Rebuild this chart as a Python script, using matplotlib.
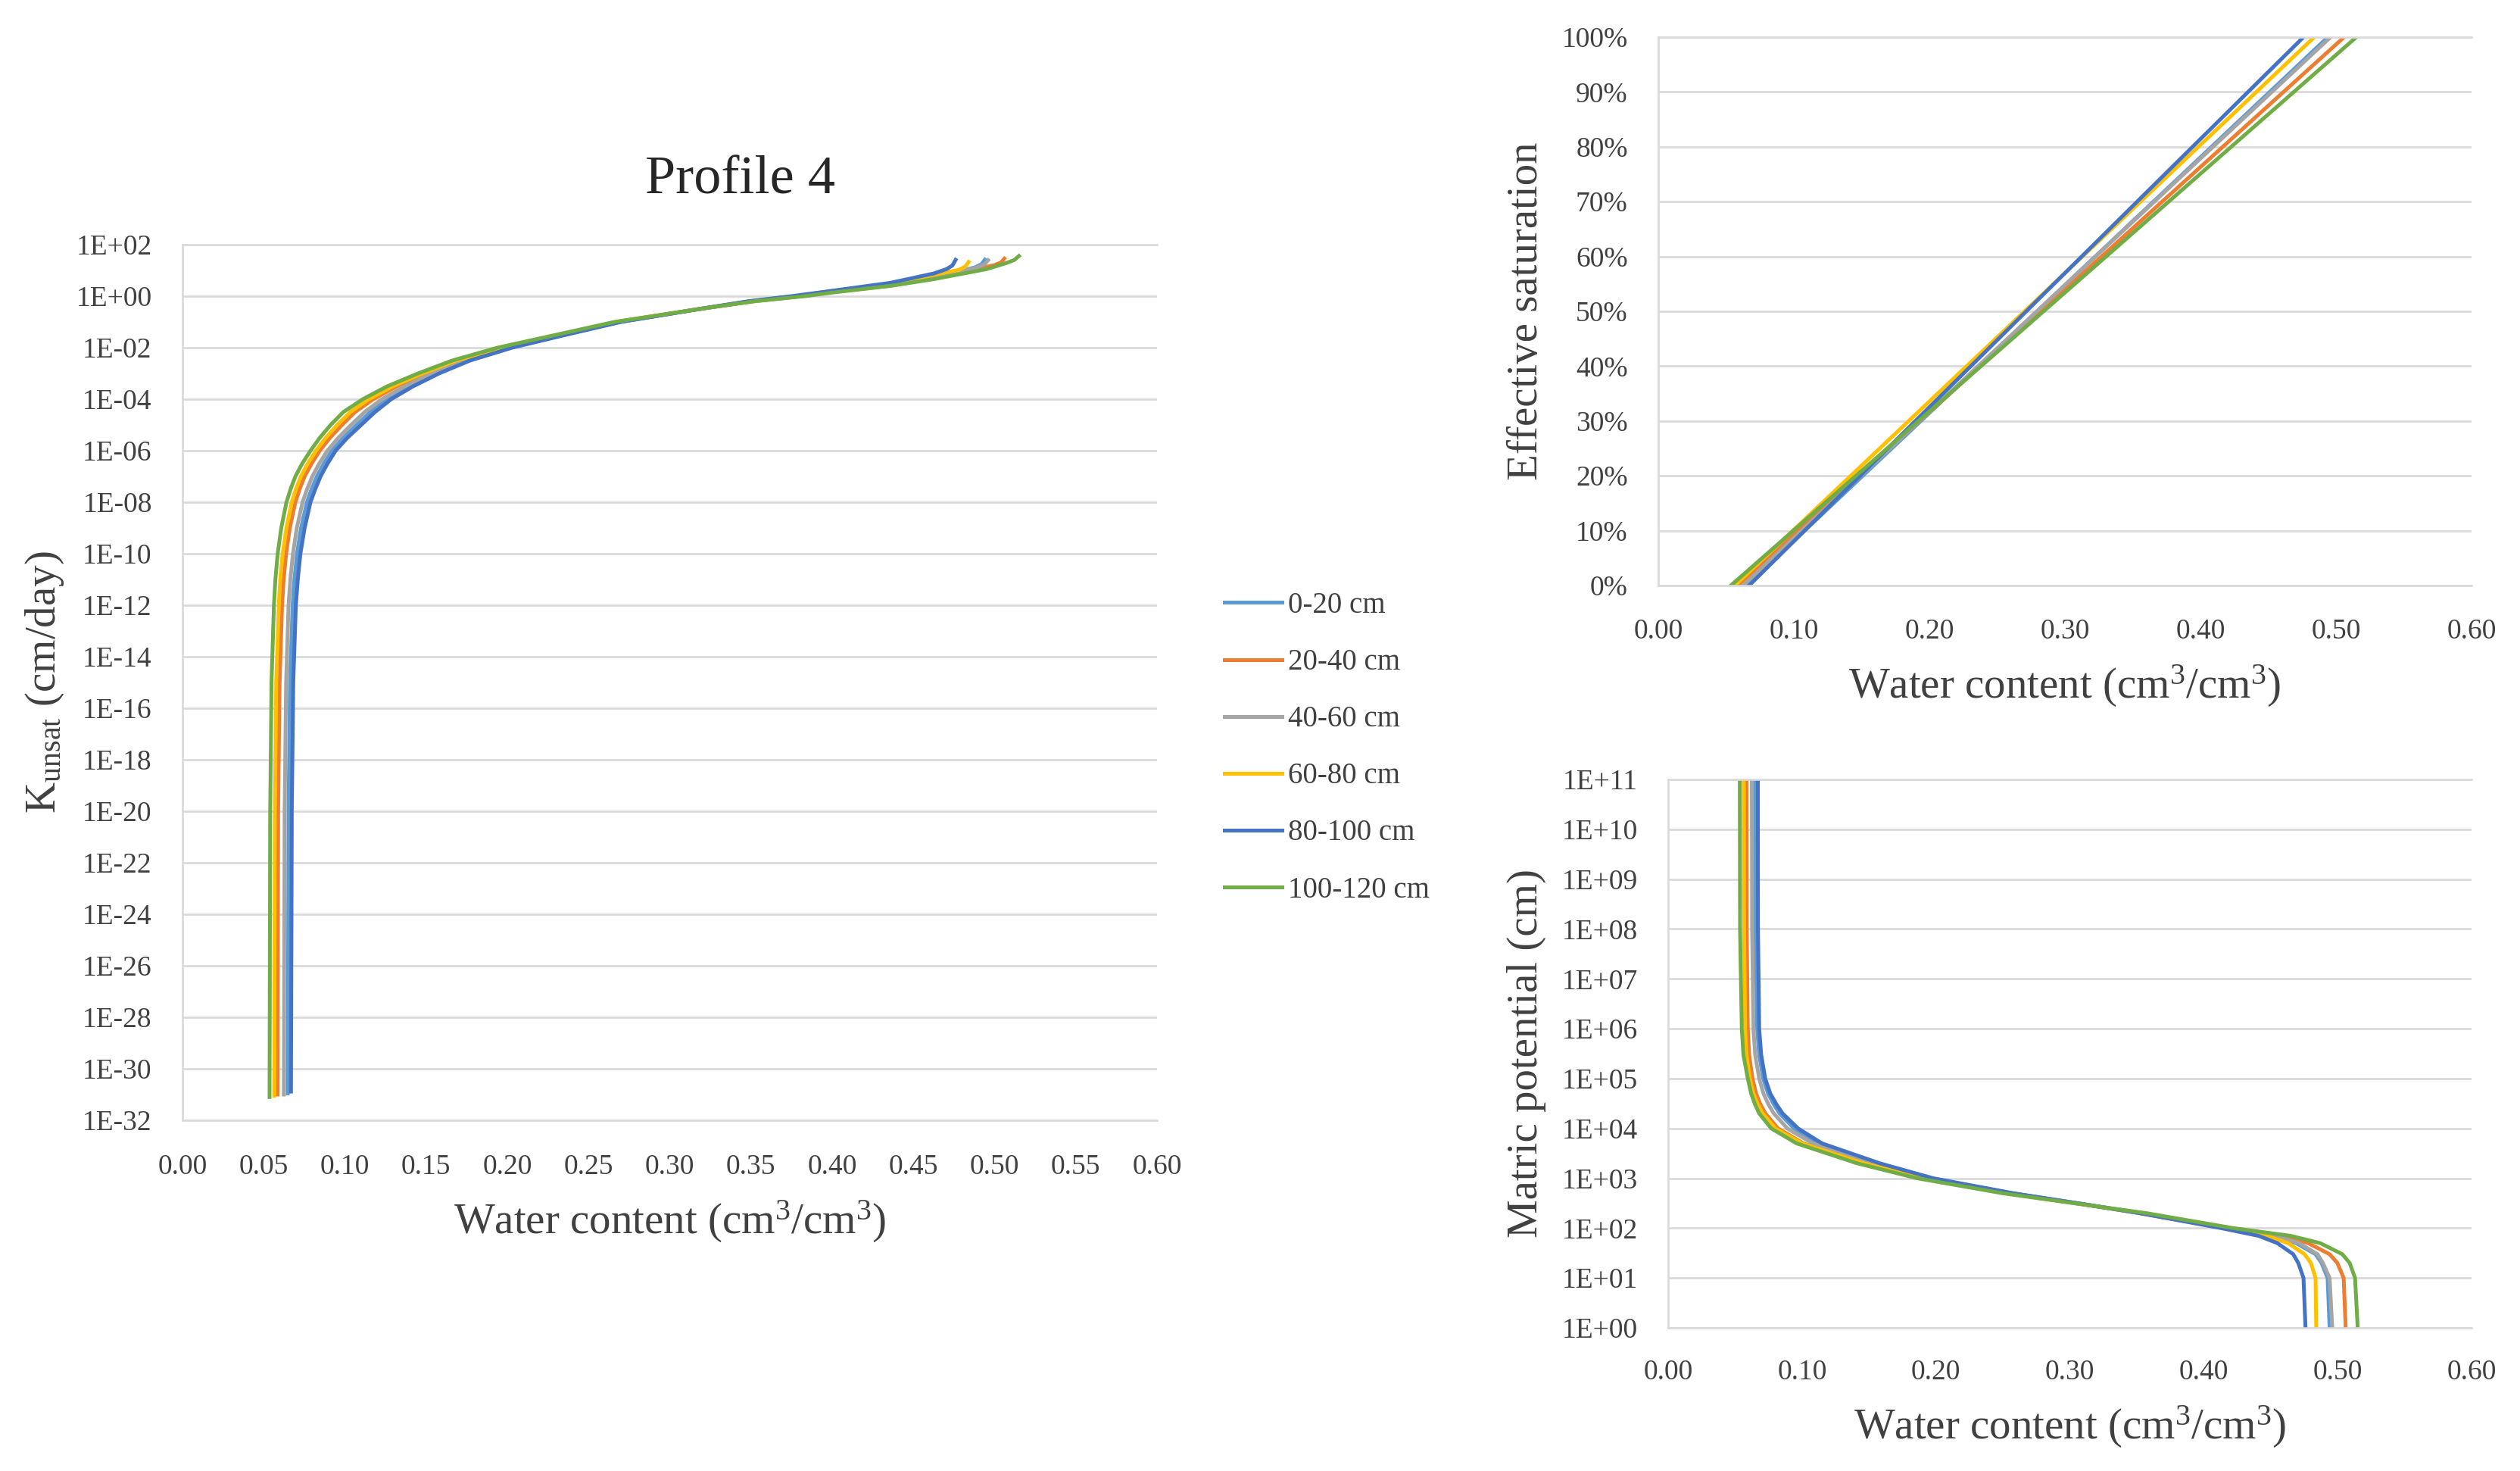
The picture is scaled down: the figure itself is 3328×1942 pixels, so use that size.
import numpy as np
import matplotlib
matplotlib.use("Agg")
import matplotlib.pyplot as plt
from matplotlib.lines import Line2D
from matplotlib.ticker import FixedLocator, FuncFormatter, NullLocator

plt.rcParams["font.family"] = ["Liberation Serif", "DejaVu Serif"]
plt.rcParams["mathtext.default"] = "regular"

# ── data ─────────────────────────────────────────────────────────────────────

LAYERS = ["0-20 cm", "20-40 cm", "40-60 cm", "60-80 cm", "80-100 cm", "100-120 cm"]
COLORS = ["#5B9BD5", "#ED7D31", "#A5A5A5", "#FFC000", "#4472C4", "#70AD47"]

# residual / saturated water content = ends of the effective-saturation lines
THETA_R = [0.0650, 0.0585, 0.0625, 0.0565, 0.0670, 0.0535]
THETA_S = [0.494, 0.506, 0.496, 0.484, 0.476, 0.515]
SE_ENDS = [0.0, 1.0]

# K_unsat (cm/day): lowest point of each curve, shared dry levels, wet tail
K_END = [1.1e-31, 1.0e-31, 1.0e-31, 9.0e-32, 1.3e-31, 8.0e-32]
K_LEVELS = [1e-20, 1e-15, 1e-12, 1e-11, 1e-10, 1e-9, 1e-8, 3.16e-8, 1e-7, 3.16e-7,
            1e-6, 3.16e-6, 1e-5, 3.16e-5, 1e-4, 3.16e-4, 1e-3, 3.16e-3, 1e-2, 3.16e-2,
            0.1, 0.316, 0.631, 1.0]

K_THETA_0_20 = [0.0648, 0.0653, 0.0662, 0.0678, 0.0689, 0.0705, 0.0730, 0.0766, 0.0794,
                0.0827, 0.0870, 0.0920, 0.0990, 0.1072, 0.1156, 0.1259, 0.1395, 0.1561,
                0.1754, 0.2017, 0.2351, 0.2694, 0.3180, 0.3500, 0.3790,
                0.400, 0.436, 0.4625, 0.480, 0.488, 0.492, 0.494]
K_WET_0_20 = [1.51, 2.75, 5.89, 9.77, 13.2, 17.4, 26.3]

K_THETA_20_40 = [0.0585, 0.0589, 0.0598, 0.0613, 0.0623, 0.0638, 0.0661, 0.0695, 0.0721,
                 0.0752, 0.0795, 0.0845, 0.0908, 0.0982, 0.1062, 0.1175, 0.1319, 0.1498,
                 0.1701, 0.1973, 0.2322, 0.2675, 0.3180, 0.3510, 0.3810,
                 0.400, 0.436, 0.4625, 0.490, 0.500, 0.504, 0.506]
K_WET_20_40 = [1.45, 2.57, 5.01, 11.7, 16.2, 20.4, 28.8]

K_THETA_40_60 = [0.0624, 0.0629, 0.0638, 0.0653, 0.0664, 0.0680, 0.0704, 0.0739, 0.0767,
                 0.0799, 0.0842, 0.0892, 0.0959, 0.1038, 0.1121, 0.1228, 0.1367, 0.1537,
                 0.1734, 0.2000, 0.2340, 0.2687, 0.3180, 0.3500, 0.3790,
                 0.400, 0.436, 0.4625, 0.482, 0.490, 0.494, 0.496]
K_WET_40_60 = [1.51, 2.69, 5.62, 10.0, 13.5, 17.8, 25.1]

K_THETA_60_80 = [0.0565, 0.0569, 0.0577, 0.0593, 0.0602, 0.0617, 0.0640, 0.0673, 0.0698,
                 0.0729, 0.0771, 0.0822, 0.0882, 0.0953, 0.1033, 0.1149, 0.1295, 0.1479,
                 0.1684, 0.1960, 0.2313, 0.2669, 0.3180, 0.3490, 0.3770,
                 0.400, 0.436, 0.4625, 0.478, 0.482, 0.484]
K_WET_60_80 = [1.58, 2.95, 6.76, 10.5, 14.1, 21.4]

K_THETA_80_100 = [0.0668, 0.0673, 0.0682, 0.0698, 0.0710, 0.0726, 0.0752, 0.0788, 0.0817,
                  0.0850, 0.0893, 0.0943, 0.1015, 0.1100, 0.1185, 0.1285, 0.1420, 0.1580,
                  0.1770, 0.2030, 0.2360, 0.2700, 0.3180, 0.3480, 0.3750,
                  0.400, 0.436, 0.4625, 0.4704, 0.474, 0.476]
K_WET_80_100 = [1.62, 3.31, 7.59, 11.2, 15.5, 25.7]

K_THETA_100_120 = [0.0536, 0.0540, 0.0548, 0.0563, 0.0572, 0.0586, 0.0608, 0.0640, 0.0665,
                   0.0695, 0.0737, 0.0788, 0.0845, 0.0912, 0.0990, 0.1110, 0.1260, 0.1450,
                   0.1660, 0.1940, 0.2300, 0.2660, 0.3180, 0.3520, 0.3830,
                   0.400, 0.436, 0.4625, 0.495, 0.507, 0.512, 0.515]
K_WET_100_120 = [1.38, 2.51, 4.57, 11.2, 19.1, 25.1, 36.3]

# matric potential (cm) and the water content read at each level
H_LEVELS = [1, 10, 20, 30, 50, 70, 100, 200, 300, 500, 1e3, 2e3, 5e3, 1e4, 2e4, 3e4,
            5e4, 1e5, 3e5, 1e6, 1e8, 1e11]
H_THETA_0_20 = [0.494, 0.4925, 0.4880, 0.4835, 0.469, 0.451, 0.416, 0.352, 0.311, 0.257,
                0.196, 0.155, 0.112, 0.094, 0.0832, 0.079, 0.0746, 0.071, 0.0680, 0.0665,
                0.0652, 0.0650]
H_THETA_20_40 = [0.506, 0.5045, 0.4998, 0.494, 0.478, 0.459, 0.420, 0.354, 0.310, 0.253,
                 0.189, 0.146, 0.101, 0.082, 0.0726, 0.069, 0.0657, 0.063, 0.0605, 0.0595,
                 0.0587, 0.0585]
H_THETA_40_60 = [0.496, 0.494, 0.4890, 0.4850, 0.471, 0.453, 0.417, 0.353, 0.311, 0.256,
                 0.194, 0.152, 0.108, 0.089, 0.0789, 0.075, 0.0712, 0.068, 0.0650, 0.0637,
                 0.0627, 0.0625]
H_THETA_60_80 = [0.484, 0.4835, 0.4800, 0.4753, 0.463, 0.447, 0.415, 0.352, 0.310, 0.254,
                 0.190, 0.146, 0.100, 0.080, 0.0706, 0.067, 0.0637, 0.061, 0.0585, 0.0575,
                 0.0567, 0.0565]
H_THETA_80_100 = [0.476, 0.4745, 0.4706, 0.4668, 0.455, 0.441, 0.413, 0.352, 0.311, 0.258,
                  0.198, 0.158, 0.115, 0.097, 0.0855, 0.081, 0.0763, 0.0725, 0.0695, 0.0680,
                  0.0671, 0.0670]
H_THETA_100_120 = [0.515, 0.513, 0.509, 0.5035, 0.487, 0.465, 0.422, 0.357, 0.309, 0.250,
                   0.186, 0.141, 0.096, 0.077, 0.0680, 0.065, 0.0620, 0.0595, 0.0562, 0.0550,
                   0.0537, 0.0535]

K_THETA = [K_THETA_0_20, K_THETA_20_40, K_THETA_40_60,
           K_THETA_60_80, K_THETA_80_100, K_THETA_100_120]
K_WET = [K_WET_0_20, K_WET_20_40, K_WET_40_60,
         K_WET_60_80, K_WET_80_100, K_WET_100_120]
H_THETA = [H_THETA_0_20, H_THETA_20_40, H_THETA_40_60,
           H_THETA_60_80, H_THETA_80_100, H_THETA_100_120]

# ── layout / style ───────────────────────────────────────────────────────────

W, H = 3328, 1942
GRID = "#D9D9D9"
TXT = "#404040"
LW = 3.6


def box(l, r, t, b):
    return [l / W, 1 - b / H, (r - l) / W, (b - t) / H]


def style(ax, xpad):
    ax.spines["right"].set_visible(False)
    for s in ("left", "top", "bottom"):
        ax.spines[s].set_color(GRID)
        ax.spines[s].set_linewidth(1.9)
    ax.grid(axis="y", color=GRID, lw=1.9)
    ax.set_axisbelow(True)
    ax.tick_params(axis="both", length=0, labelsize=27, labelcolor=TXT)
    ax.tick_params(axis="y", pad=29)
    ax.tick_params(axis="x", pad=xpad)
    ax.set_xlim(0, 0.6)


fig = plt.figure(figsize=(W / 100, H / 100), dpi=100)

# ── left: unsaturated conductivity ──────────────────────────────────────────
ax_k = fig.add_axes(box(241, 1528, 323, 1479))
style(ax_k, 32)
for i, name in enumerate(LAYERS):
    k_vals = [K_END[i]] + K_LEVELS + K_WET[i]
    ax_k.plot(K_THETA[i], k_vals, color=COLORS[i], lw=LW, label=name,
              solid_joinstyle="round")
ax_k.set_yscale("log")
ax_k.set_ylim(1e-32, 1e2)
ax_k.yaxis.set_major_locator(FixedLocator(10.0 ** np.arange(-32, 3, 2)))
ax_k.yaxis.set_minor_locator(NullLocator())
ax_k.yaxis.set_major_formatter(
    FuncFormatter(lambda v, p: f"1E{int(round(np.log10(v))):+03d}"))
ax_k.xaxis.set_major_locator(FixedLocator(np.arange(0, 0.601, 0.05)))
ax_k.xaxis.set_major_formatter(FuncFormatter(lambda v, p: f"{v:.2f}"))
ax_k.set_xlabel("Water content (cm$^3$/cm$^3$)", fontsize=41, color=TXT, va="center")
ax_k.set_ylabel("K$_{unsat}$ (cm/day)", fontsize=41, color=TXT, va="center")
ax_k.xaxis.set_label_coords(0.5, (1479 - 1613) / (1479 - 323))
ax_k.yaxis.set_label_coords((59 - 241) / (1528 - 241), 0.5)
fig.text(978 / W, 1 - 238 / H, "Profile 4", fontsize=52, color="#262626",
         ha="center", va="center")

# ── top right: effective saturation ─────────────────────────────────────────
ax_se = fig.add_axes(box(2190, 3264, 49, 773))
style(ax_se, 31)
for i, name in enumerate(LAYERS):
    ax_se.plot([THETA_R[i], THETA_S[i]], SE_ENDS, color=COLORS[i], lw=LW)
ax_se.set_ylim(0, 1)
ax_se.yaxis.set_major_locator(FixedLocator(np.arange(0, 1.001, 0.1)))
ax_se.yaxis.set_major_formatter(FuncFormatter(lambda v, p: f"{v * 100:.0f}%"))
ax_se.xaxis.set_major_locator(FixedLocator(np.arange(0, 0.601, 0.1)))
ax_se.xaxis.set_major_formatter(FuncFormatter(lambda v, p: f"{v:.2f}"))
ax_se.set_xlabel("Water content (cm$^3$/cm$^3$)", fontsize=41, color=TXT, va="center")
ax_se.set_ylabel("Effective saturation", fontsize=41, color=TXT, va="center")
ax_se.xaxis.set_label_coords(0.5, (773 - 906) / (773 - 49))
ax_se.yaxis.set_label_coords((2016 - 2190) / (3264 - 2190), 0.5)

# ── bottom right: matric potential ──────────────────────────────────────────
ax_h = fig.add_axes(box(2203, 3264, 1029, 1753))
style(ax_h, 30)
for i, name in enumerate(LAYERS):
    ax_h.plot(H_THETA[i], H_LEVELS, color=COLORS[i], lw=LW, solid_joinstyle="round")
ax_h.set_yscale("log")
ax_h.set_ylim(1, 1e11)
ax_h.yaxis.set_major_locator(FixedLocator(10.0 ** np.arange(0, 12)))
ax_h.yaxis.set_minor_locator(NullLocator())
ax_h.yaxis.set_major_formatter(
    FuncFormatter(lambda v, p: f"1E{int(round(np.log10(v))):+03d}"))
ax_h.xaxis.set_major_locator(FixedLocator(np.arange(0, 0.601, 0.1)))
ax_h.xaxis.set_major_formatter(FuncFormatter(lambda v, p: f"{v:.2f}"))
ax_h.set_xlabel("Water content (cm$^3$/cm$^3$)", fontsize=41, color=TXT, va="center")
ax_h.set_ylabel("Matric potential (cm)", fontsize=41, color=TXT, va="center")
ax_h.xaxis.set_label_coords(0.5, (1753 - 1884) / (1753 - 1029))
ax_h.yaxis.set_label_coords((2016 - 2203) / (3264 - 2203), 0.5)

# ── legend between the panels ───────────────────────────────────────────────
handles = [Line2D([], [], color=c, lw=LW) for c in COLORS]
fig.legend(handles, LAYERS, loc="upper left",
           bbox_to_anchor=(1617 / W, 1 - 781 / H), frameon=False,
           fontsize=28, labelcolor=TXT, handlelength=1.95, handletextpad=0.2,
           labelspacing=0.98, borderpad=0, borderaxespad=0)

fig.savefig("out.png", dpi=100)
